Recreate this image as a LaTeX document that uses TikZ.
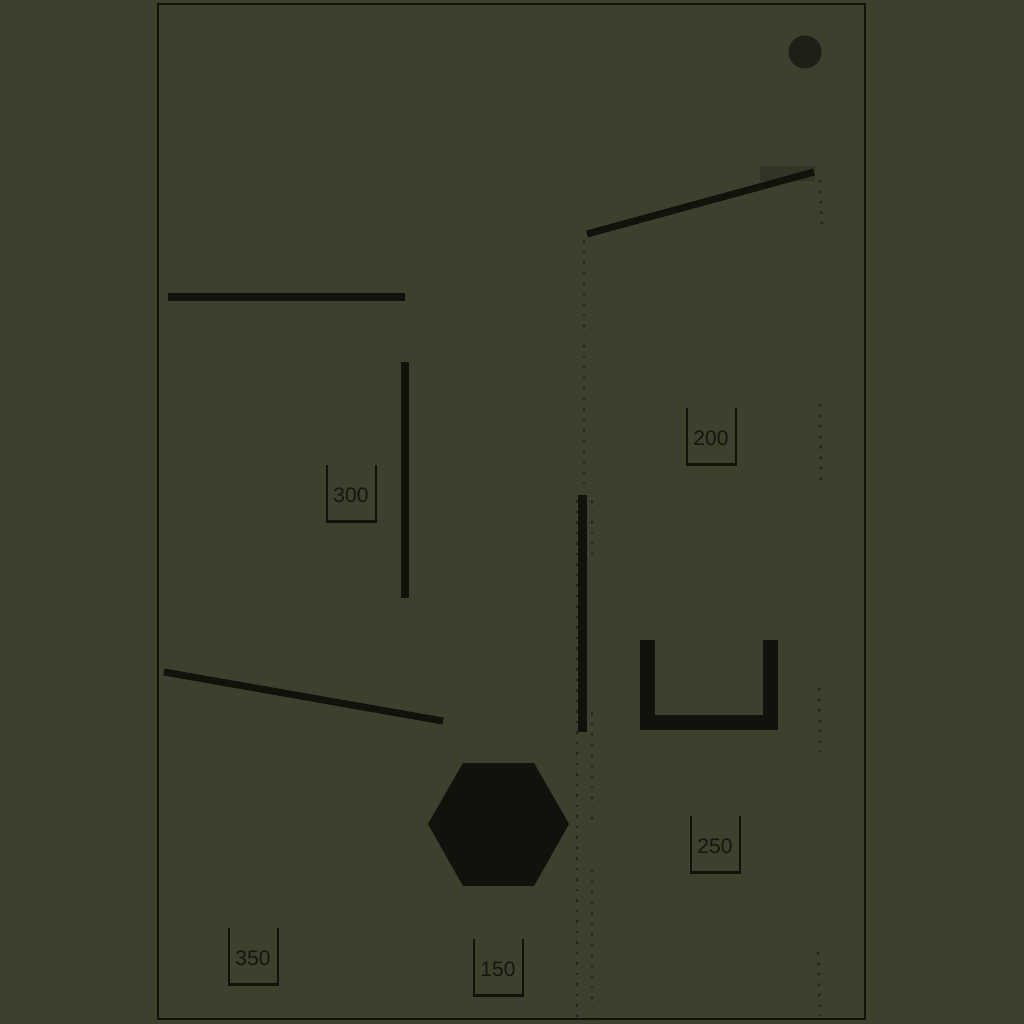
\documentclass[tikz,border=0pt]{standalone}
\usepackage{fontspec}
\setmainfont{Liberation Sans}
\definecolor{bg}{RGB}{60,64,44}
\definecolor{ink}{RGB}{16,18,12}
\definecolor{ballc}{RGB}{30,32,24}
\definecolor{shadec}{RGB}{50,53,38}
\definecolor{trail}{RGB}{36,39,28}
\definecolor{txt}{RGB}{20,22,15}
\begin{document}
\begin{tikzpicture}[x=1pt,y=-1pt,
  bar/.style={line width=#1,draw=ink},
  cup/.style={draw=ink,line width=2pt},
  cupbase/.style={draw=ink,line width=3pt},
  lbl/.style={font=\fontsize{21}{21}\selectfont,text=txt,inner sep=0pt},
  trailline/.style={draw=trail,line width=2.5pt,dash pattern=on 2.5pt off 8pt}]
\fill[bg] (0,0) rectangle (1024,1024);
\useasboundingbox (0,0) rectangle (1024,1024);
% frame
\draw[ink,line width=2pt] (158,4) rectangle (865,1019);
% trails
\draw[trailline] (584,240) -- (584,492);
\draw[trailline] (577,500) -- (577,1019);
\draw[trailline] (592,500) -- (592,560);
\draw[trailline] (592,712) -- (592,820);
\draw[trailline] (592,870) -- (592,1019);
\draw[trailline] (820,180) -- (822,228);
\draw[trailline] (820,404) -- (821,482);
\draw[trailline] (819,688) -- (820,752);
\draw[trailline] (818,952) -- (820,1016);
% shaded patch near top right bar
\fill[shadec] (760,166) rectangle (815,181);
% ball
\fill[ballc] (805,52) circle (16.5);
% bars
\draw[bar=7pt] (587,234) -- (814,172);
\draw[bar=8pt] (168,297) -- (405,297);
\draw[bar=8pt] (405,362) -- (405,598);
\draw[bar=7pt] (164,672) -- (443,721);
\draw[bar=9pt] (582,495) -- (582,732);
% U shape
\fill[ink] (640,640) rectangle (655,730);
\fill[ink] (640,715) rectangle (778,730);
\fill[ink] (763,640) rectangle (778,730);
% hexagon
\fill[ink] (428,824) -- (463,763) -- (534,763) -- (569,824) -- (534,886) -- (463,886) -- cycle;
% cups
\foreach \cx/\ty/\v in {351/465/300, 711/408/200, 715/816/250, 253/928/350, 498/939/150}{
  \draw[cup] (\cx-24.5,\ty) -- (\cx-24.5,\ty+56);
  \draw[cup] (\cx+24.5,\ty) -- (\cx+24.5,\ty+56);
  \draw[cupbase] (\cx-25.5,\ty+56) -- (\cx+25.5,\ty+56);
  \node[lbl] (c\v) at (\cx,\ty+30) {\v};
}
\end{tikzpicture}
\end{document}
